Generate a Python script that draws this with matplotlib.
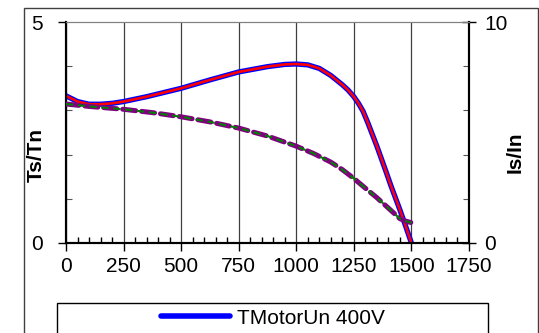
import numpy as np
import matplotlib
matplotlib.use("Agg")
import matplotlib.pyplot as plt
from matplotlib.patches import Rectangle
from matplotlib.lines import Line2D
from matplotlib.ticker import MultipleLocator

plt.rcParams['font.family'] = ['Liberation Sans', 'DejaVu Sans']

# Drehzahl / Moment (linke Achse)
n_torque = [0, 50, 100, 150, 200, 250, 350, 500, 625, 750, 875, 950, 1000, 1050, 1100,
            1150, 1200, 1225, 1250, 1270, 1290, 1310, 1330, 1350, 1370, 1390, 1410, 1430,
            1450, 1475, 1500]
torque = [3.33, 3.20, 3.14, 3.14, 3.16, 3.20, 3.31, 3.50, 3.69, 3.87, 3.99, 4.04, 4.05,
          4.03, 3.95, 3.79, 3.58, 3.46, 3.31, 3.16, 2.98, 2.73, 2.46, 2.19, 1.90, 1.61,
          1.31, 1.03, 0.75, 0.38, 0.0]

# Strom (rechte Achse)
n_current = [0, 100, 250, 375, 500, 625, 750, 875, 1000, 1075, 1150, 1200, 1250, 1300,
             1350, 1400, 1450, 1475, 1500]
current = [6.29, 6.18, 6.05, 5.90, 5.71, 5.48, 5.20, 4.84, 4.38, 4.05, 3.66, 3.32, 2.92,
           2.48, 2.05, 1.58, 1.10, 0.99, 0.92]

legend_label = "TMotorUn 400V"

fig = plt.figure(figsize=(5.39, 3.33), dpi=100)
ax = fig.add_axes([66/539, 90/333, 403/539, 221/333])
ax2 = ax.twinx()

# Momentkurve: blau dick, rot dünn drüber
ax.plot(n_torque, torque, color='blue', lw=3.8, solid_joinstyle='round', solid_capstyle='butt', zorder=3)
ax.plot(n_torque, torque, color='red', lw=1.9, solid_joinstyle='round', zorder=4)

# Stromkurve: lila gestrichelt, grün gestrichelt drüber
ax2.plot(n_current, current, color='#800080', lw=3.6, dashes=(2.6, 1.2),
         dash_capstyle='round', zorder=3)
ax2.plot(n_current, current, color='#008000', lw=1.5, dashes=(3.5, 2.2), zorder=4)

ax.set_xlim(0, 1750)
ax.set_ylim(0, 5)
ax2.set_ylim(0, 10)

ax.xaxis.set_major_locator(MultipleLocator(250))
ax.xaxis.set_minor_locator(MultipleLocator(50))
ax.set_yticks([0, 5])
ax.yaxis.set_minor_locator(MultipleLocator(1))
ax2.set_yticks([0, 10])
ax2.yaxis.set_minor_locator(MultipleLocator(2))

ax.grid(axis='x', which='major', color='#404040', lw=0.9)
ax.tick_params(axis='x', which='major', direction='out', length=6, width=1, labelsize=15, pad=4)
ax.tick_params(axis='x', which='minor', direction='in', length=4, width=1)
ax.tick_params(axis='y', which='major', direction='out', length=6, width=1, labelsize=15, pad=11)
ax.tick_params(axis='y', which='minor', direction='in', length=4, width=0.8, color='#555555')
ax2.tick_params(axis='y', which='major', direction='inout', length=10, width=1, labelsize=15, pad=6)
ax2.tick_params(axis='y', which='minor', direction='in', length=4, width=0.8, color='#555555')

for a in (ax, ax2):
    a.spines['top'].set_color('#808080')
    a.spines['left'].set_linewidth(1.5)
    a.spines['bottom'].set_linewidth(1.5)
    a.spines['right'].set_linewidth(1.5)

ax.set_ylabel("Ts/Tn", fontsize=15, fontweight='bold')
ax.yaxis.set_label_coords(-0.05, 0.40)
ax2.set_ylabel("Is/In", fontsize=15, fontweight='bold')
ax2.yaxis.set_label_coords(1.092, 0.41)

# Rahmen um das Diagramm
fig.patches.append(Rectangle((24/539, -0.1), 514/539, 1.1 - 8/333, transform=fig.transFigure,
                             fill=False, edgecolor='#404040', lw=1))
# Legendenrahmen
fig.patches.append(Rectangle((57/539, -0.1), 431/539, 0.1 + 30/333, transform=fig.transFigure,
                             fill=False, edgecolor='black', lw=1))
handle = Line2D([], [], color='blue', lw=4, solid_capstyle='round')
fig.legend([handle], [legend_label], loc='center left', bbox_to_anchor=(161/539, 15/333),
           frameon=False, borderpad=0, borderaxespad=0, handlelength=3.3,
           handletextpad=0.35, fontsize=15)

fig.savefig("out.png", dpi=100)
